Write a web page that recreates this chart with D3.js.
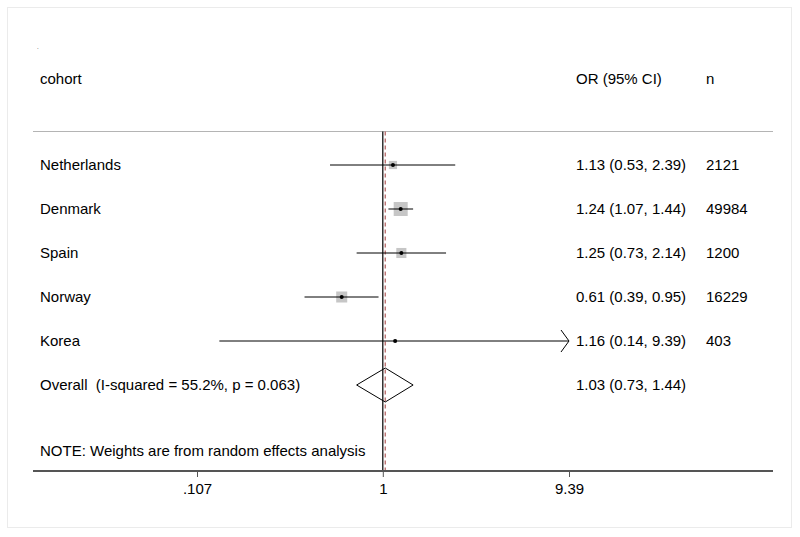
<!DOCTYPE html>
<head>
<meta charset="utf-8">
<script src="https://d3js.org/d3.v7.min.js"></script>
<style>
  body { margin: 0; background: #fff; }
  text { font-family: "Liberation Sans", Arial, sans-serif; font-size: 15px; fill: #000; white-space: pre; }
  .tick line { stroke: #555; }
  path.domain { display: none; }
</style>
</head>
<body>
<script>
const width = 800;
const height = 537;

// study rows
const cohorts  = ['Netherlands', 'Denmark', 'Spain', 'Norway', 'Korea'];
const estimate = [1.13, 1.24, 1.25, 0.61, 1.16];
const lower    = [0.53, 1.07, 0.73, 0.39, 0.14];
const upper    = [2.39, 1.44, 2.14, 0.95, 9.39];
const counts   = [2121, 49984, 1200, 16229, 403];
const weights  = [13.5, 39.5, 20.5, 24.5, 2.0]; // % weight

// pooled
const overall = {est: 1.03, lo: 0.73, hi: 1.44, label: 'Overall  (I-squared = 55.2%, p = 0.063)'};

const tickValues = [0.107, 1, 9.39];
const tickLabels = ['.107', '1', '9.39'];

const headers = {cohort: 'cohort', ci: 'OR (95% CI)', n: 'n'};
const note = 'NOTE: Weights are from random effects analysis';

const panel = {left: 33, right: 773, top: 131.5, bottom: 471};
const col = {label: 40, ci: 576, n: 706};
const rowY0 = 165, rowStep = 44;

const svg = d3.select('body').append('svg')
  .attr('width', width)
  .attr('height', height);

// outer frame
svg.append('rect')
  .attr('x', 7.5).attr('y', 7.5)
  .attr('width', 784).attr('height', 520)
  .attr('fill', '#fff')
  .attr('stroke', '#ebebeb');

const x = d3.scaleLog()
  .domain([tickValues[0], tickValues[tickValues.length - 1]])
  .range([197, 569]);

const rows = cohorts.map((c, i) => ({
  name: c, est: estimate[i], lo: lower[i], hi: upper[i], n: counts[i], w: weights[i], y: rowY0 + i * rowStep
}));
const overallY = rowY0 + cohorts.length * rowStep;
const fmt = d3.format('.2f');

// tiny mark top-left
svg.append('text').attr('x', 37).attr('y', 49).style('font-size', '6px').attr('fill', '#888').text('.');

// headers
svg.append('text').attr('x', col.label).attr('y', 79).attr('dy', '0.35em').text(headers.cohort);
svg.append('text').attr('x', col.ci).attr('y', 79).attr('dy', '0.35em').text(headers.ci);
svg.append('text').attr('x', col.n).attr('y', 79).attr('dy', '0.35em').text(headers.n);

svg.append('line')
  .attr('x1', panel.left).attr('x2', panel.right)
  .attr('y1', panel.top).attr('y2', panel.top)
  .attr('stroke', '#b4b4b4').attr('stroke-width', 1);

// null line
svg.append('line')
  .attr('x1', x(1)).attr('x2', x(1))
  .attr('y1', panel.top).attr('y2', panel.bottom)
  .attr('stroke', '#000').attr('stroke-width', 1.2);

// overall effect line
svg.append('line')
  .attr('x1', x(overall.est)).attr('x2', x(overall.est))
  .attr('y1', panel.top).attr('y2', panel.bottom)
  .attr('stroke', '#b86a6a').attr('stroke-width', 1.3)
  .attr('stroke-dasharray', '4,3');

const xMin = tickValues[0], xMax = tickValues[tickValues.length - 1];
const boxScale = 14 / Math.sqrt(d3.max(weights));

const g = svg.append('g');

rows.forEach(d => {
  const lo = Math.max(d.lo, xMin), hi = Math.min(d.hi, xMax);
  const s = boxScale * Math.sqrt(d.w);
  g.append('rect')
    .attr('x', x(d.est) - s / 2).attr('y', d.y - s / 2)
    .attr('width', s).attr('height', s)
    .attr('fill', '#c6c6c6');
  g.append('line')
    .attr('x1', x(lo)).attr('x2', x(hi))
    .attr('y1', d.y).attr('y2', d.y)
    .attr('stroke', '#000').attr('stroke-width', 1);
  g.append('circle')
    .attr('cx', x(d.est)).attr('cy', d.y).attr('r', 2)
    .attr('fill', '#000');
  if (d.hi >= xMax) {
    g.append('path')
      .attr('d', `M${x(hi) - 8},${d.y - 11}L${x(hi)},${d.y}L${x(hi) - 8},${d.y + 11}`)
      .attr('fill', 'none').attr('stroke', '#000').attr('stroke-width', 1);
  }
  if (d.lo <= xMin) {
    g.append('path')
      .attr('d', `M${x(lo) + 8},${d.y - 11}L${x(lo)},${d.y}L${x(lo) + 8},${d.y + 11}`)
      .attr('fill', 'none').attr('stroke', '#000').attr('stroke-width', 1);
  }
  svg.append('text').attr('x', col.label).attr('y', d.y).attr('dy', '0.35em').text(d.name);
  svg.append('text').attr('x', col.ci).attr('y', d.y).attr('dy', '0.35em')
    .text(`${fmt(d.est)} (${fmt(d.lo)}, ${fmt(d.hi)})`);
  svg.append('text').attr('x', col.n).attr('y', d.y).attr('dy', '0.35em').text(d.n);
});

// pooled diamond
const dh = 17;
svg.append('path')
  .attr('d', `M${x(overall.lo)},${overallY}L${x(overall.est)},${overallY - dh}L${x(overall.hi)},${overallY}L${x(overall.est)},${overallY + dh}Z`)
  .attr('fill', 'none').attr('stroke', '#000').attr('stroke-width', 1);
svg.append('text').attr('x', col.label).attr('y', overallY).attr('dy', '0.35em').text(overall.label);
svg.append('text').attr('x', col.ci).attr('y', overallY).attr('dy', '0.35em')
  .text(`${fmt(overall.est)} (${fmt(overall.lo)}, ${fmt(overall.hi)})`);

svg.append('text').attr('x', col.label).attr('y', 451).attr('dy', '0.35em').text(note);

// x axis
svg.append('line')
  .attr('x1', panel.left).attr('x2', panel.right)
  .attr('y1', panel.bottom).attr('y2', panel.bottom)
  .attr('stroke', '#555').attr('stroke-width', 2);

const xAxis = d3.axisBottom(x)
  .tickValues(tickValues)
  .tickFormat((d, i) => tickLabels[i])
  .tickSize(6)
  .tickPadding(6);

svg.append('g')
  .attr('transform', `translate(0, ${panel.bottom})`)
  .call(xAxis)
  .call(a => a.selectAll('.tick text').style('font-size', '15px').style('font-family', '"Liberation Sans", Arial, sans-serif').attr('fill', '#000'));
</script>
</body>
